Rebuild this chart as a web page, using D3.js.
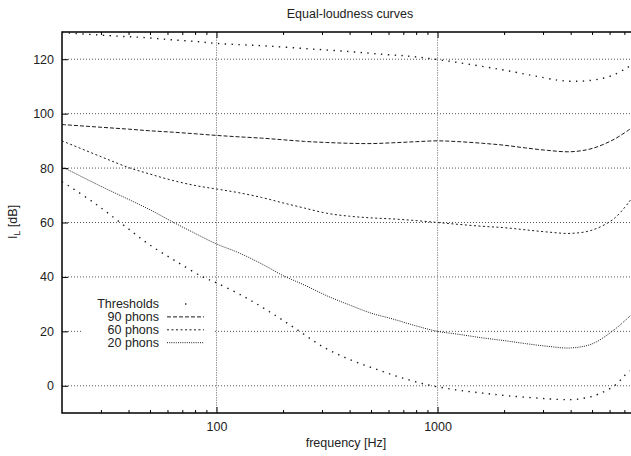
<!DOCTYPE html>
<html>
<head>
<meta charset="utf-8">
<script src="https://cdn.jsdelivr.net/npm/d3@7"></script>
<style>
  body { margin: 0; background: #fff; }
  text { font-family: "Liberation Sans", Arial, sans-serif; }
</style>
</head>
<body>
<svg id="chart" width="631" height="456"></svg>
<script>
// frequencies (Hz) shared by the three phon curves
const phonFreqs = [20, 30, 40, 50, 63, 80, 100, 125, 160, 200, 250, 315, 400, 500, 630, 800, 1000, 1250, 1600, 2000, 2500, 3150, 4000, 5000, 6300, 7500];
const phon90 = [96, 95, 94.3, 93.7, 93.2, 92.6, 92, 91.5, 91, 90.4, 89.8, 89.4, 89.1, 89, 89.3, 89.7, 90, 89.7, 89.1, 88.4, 87.4, 86.5, 86, 87.2, 90.6, 94.6];
const phon60 = [90, 84.2, 80.2, 77.8, 75.5, 73.6, 72.3, 71, 69.2, 67.2, 65.3, 63.4, 62.3, 61.7, 61.3, 60.7, 60, 59.3, 58.6, 58.1, 57.3, 56.5, 56, 57.2, 61.5, 68.5];
const phon20 = [80.5, 73.3, 68.5, 64.7, 60.3, 56, 52.1, 49, 44.8, 40.5, 37, 33.1, 29.7, 26.7, 24.5, 22, 20, 18.9, 17.6, 16.6, 15.5, 14.5, 13.9, 15.4, 20.6, 26];

// hearing threshold (lower) and pain threshold (upper)
const lowFreqs = [20, 21.4, 28.3, 37.5, 49.4, 65.2, 86.2, 100, 131.5, 173.7, 229, 302, 399, 527, 697, 920, 1214, 1600, 2100, 2900, 3500, 4000, 4500, 5000, 5500, 6100, 6600, 7000, 7400];
const lowVals = [75, 73.5, 66.9, 59.4, 52, 45.9, 40.1, 37.8, 33, 27.2, 20.9, 14.4, 9.7, 6.1, 2.8, 0.2, -1.5, -2.7, -3.7, -4.6, -5, -5.1, -4.7, -3.9, -2.6, -0.8, 1.4, 3.7, 5.5];
const highFreqs = [20, 35.2, 46.4, 61.3, 80.9, 100, 131.5, 173.7, 263, 399, 565, 747, 952, 1254, 1873, 2657, 3495, 4019, 4627, 5315, 6106, 7017, 7400];
const highVals = [129.8, 128.5, 128, 127.2, 126.5, 125.8, 125.3, 124.8, 123.8, 122.8, 121.8, 121.1, 120.1, 118.7, 116.4, 114.1, 112.3, 111.9, 112, 112.6, 113.9, 116.3, 117.5];

// axis ticks
const yTicks = [0, 20, 40, 60, 80, 100, 120];
const xMajor = [100, 1000];
const xMinor = [30, 40, 50, 60, 70, 80, 90, 200, 300, 400, 500, 600, 700, 800, 900, 2000, 3000, 4000, 5000, 6000, 7000];

const legendLabels = ["Thresholds", "90 phons", "60 phons", "20 phons"];

const svg = d3.select("#chart");
const plotL = 62, plotR = 631, plotT = 32, plotB = 413;

const x = d3.scaleLog().domain([20, 7500]).range([plotL, plotR]);
const y = d3.scaleLinear().domain([-10, 130]).range([plotB, plotT]);

// 标题
svg.append("text")
  .attr("x", 350).attr("y", 18)
  .attr("text-anchor", "middle")
  .attr("font-size", "12.5px").attr("fill", "#222")
  .text("Equal-loudness curves");

// grid
const grid = svg.append("g");
grid.selectAll(".hgrid").data(yTicks).enter().append("line")
  .attr("x1", plotL).attr("x2", plotR)
  .attr("y1", d => y(d)).attr("y2", d => y(d))
  .attr("stroke", "#555").attr("stroke-width", 1)
  .attr("stroke-dasharray", "1,2");
grid.selectAll(".vgrid").data(xMajor).enter().append("line")
  .attr("x1", d => x(d)).attr("x2", d => x(d))
  .attr("y1", plotT).attr("y2", plotB)
  .attr("stroke", "#999").attr("stroke-width", 1)
  .attr("stroke-dasharray", "1.5,1");

// axes
function styleAxis(g) {
  g.select(".domain").remove();
  g.selectAll(".tick line").attr("stroke", "#000");
  g.selectAll(".tick text").attr("fill", "#222").attr("font-size", "12.5px")
    .attr("font-family", "Liberation Sans, Arial, sans-serif");
}

svg.append("g").attr("transform", `translate(0,${plotB})`)
  .call(d3.axisBottom(x).tickValues(xMajor).tickSize(-6).tickPadding(9).tickFormat(d3.format("d")))
  .call(styleAxis);
svg.append("g").attr("transform", `translate(0,${plotB})`)
  .call(d3.axisBottom(x).tickValues(xMinor).tickSize(-3).tickFormat(""))
  .call(styleAxis);
svg.append("g").attr("transform", `translate(0,${plotT})`)
  .call(d3.axisTop(x).tickValues(xMajor).tickSize(-6).tickFormat(""))
  .call(styleAxis);
svg.append("g").attr("transform", `translate(0,${plotT})`)
  .call(d3.axisTop(x).tickValues(xMinor).tickSize(-3).tickFormat(""))
  .call(styleAxis);
svg.append("g").attr("transform", `translate(${plotL},0)`)
  .call(d3.axisLeft(y).tickValues(yTicks).tickSize(-6).tickPadding(8))
  .call(styleAxis);

// border
svg.append("path")
  .attr("d", `M${plotR},${plotT}H${plotL}V${plotB}H${plotR}`)
  .attr("fill", "none").attr("stroke", "#000").attr("stroke-width", 1.5);

// axis titles
svg.append("text")
  .attr("x", 346).attr("y", 447)
  .attr("text-anchor", "middle")
  .attr("font-size", "12.5px").attr("fill", "#222")
  .text("frequency [Hz]");

const yl = svg.append("text")
  .attr("transform", "translate(17,222) rotate(-90)")
  .attr("text-anchor", "middle")
  .attr("font-size", "12.5px").attr("fill", "#222");
yl.append("tspan").text("I");
yl.append("tspan").attr("font-size", "9px").attr("dy", 3).text("L");
yl.append("tspan").attr("dy", -3).text(" [dB]");

// curves
const line = d3.line()
  .x(d => x(d[0])).y(d => y(d[1]))
  .curve(d3.curveCatmullRom.alpha(0.5));

const curves = [
  { f: phonFreqs, v: phon90, dash: "4,2", w: 1 },
  { f: phonFreqs, v: phon60, dash: "2,2.5", w: 1 },
  { f: phonFreqs, v: phon20, dash: "1,1.2", w: 1 },
  { f: lowFreqs, v: lowVals, dash: "1.4,5.4", w: 1.4 },
  { f: highFreqs, v: highVals, dash: "1.4,5.4", w: 1.4 }
];

const plot = svg.append("g");
curves.forEach(c => {
  plot.append("path")
    .datum(c.f.map((f, i) => [f, c.v[i]]))
    .attr("d", line)
    .attr("fill", "none")
    .attr("stroke", "#1a1a1a")
    .attr("stroke-width", c.w)
    .attr("stroke-dasharray", c.dash);
});

// legend
const key = svg.append("g");
key.append("rect")
  .attr("x", 83).attr("y", 296).attr("width", 130).attr("height", 54)
  .attr("fill", "#fff");
const keyDash = [null, "4,2", "2,2.5", "1,1.2"];
legendLabels.forEach((lab, i) => {
  const cy = 304 + i * 12.9;
  key.append("text")
    .attr("x", 159).attr("y", cy).attr("dy", "0.35em")
    .attr("text-anchor", "end")
    .attr("font-size", "12.5px").attr("fill", "#222")
    .text(lab);
  if (i === 0) {
    key.append("rect")
      .attr("x", 185).attr("y", cy - 0.7).attr("width", 1.4).attr("height", 1.4)
      .attr("fill", "#1a1a1a");
  } else {
    key.append("line")
      .attr("x1", 167).attr("x2", 204).attr("y1", cy).attr("y2", cy)
      .attr("stroke", "#1a1a1a").attr("stroke-width", 1)
      .attr("stroke-dasharray", keyDash[i]);
  }
});
</script>
</body>
</html>
